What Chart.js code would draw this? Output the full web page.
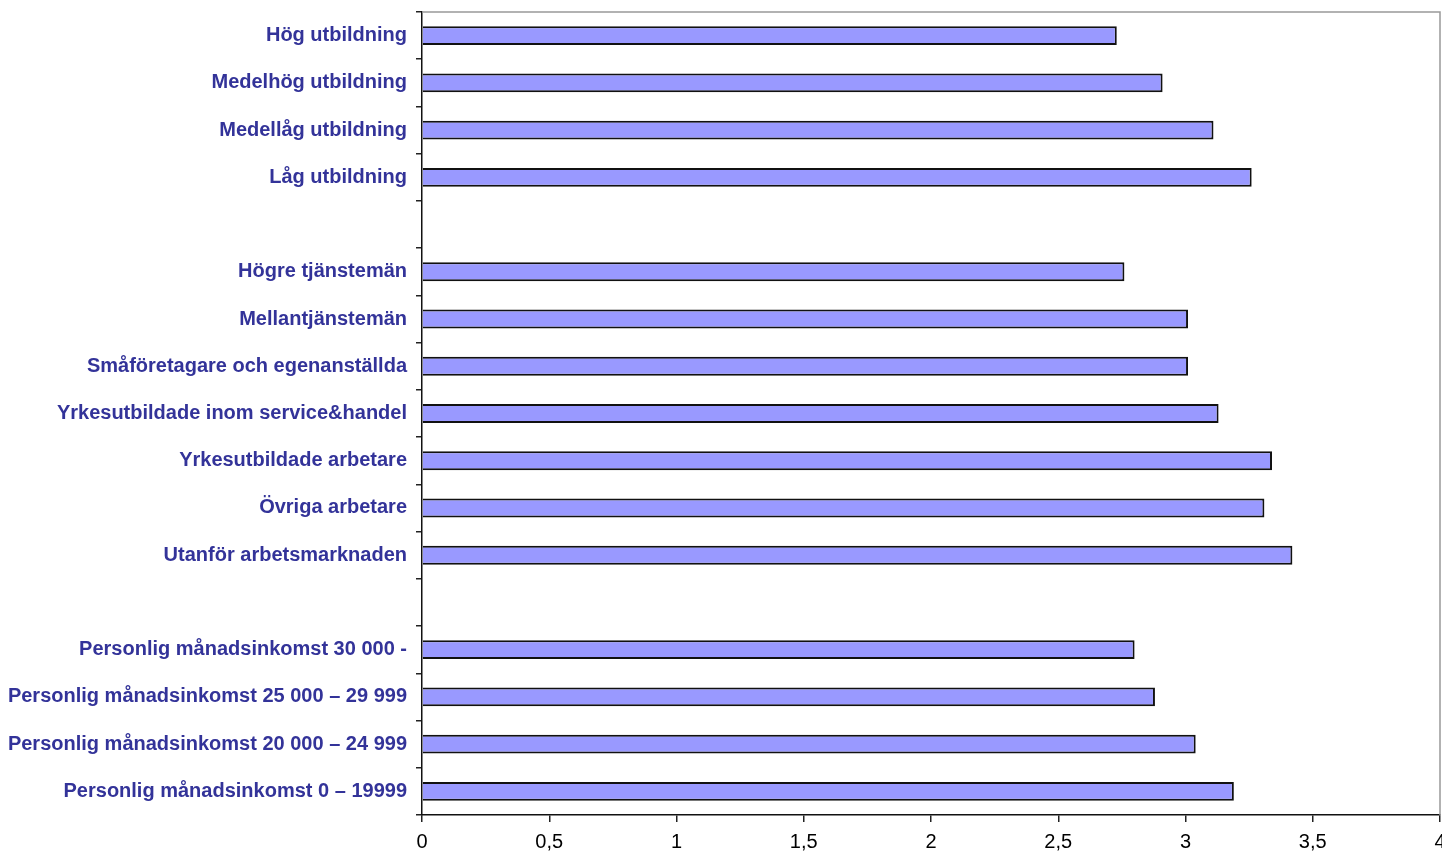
<!DOCTYPE html>
<html>
<head>
<meta charset="utf-8">
<script src="https://cdn.jsdelivr.net/npm/chart.js@4"></script>
<style>
  html, body { margin: 0; padding: 0; background: #fff; }
  #wrap { width: 1442px; height: 851px; }
</style>
</head>
<body>
<div id="wrap"><canvas id="barChart"></canvas></div>
<script>
// categories, top to bottom ('' = empty gap row)
const categories = [
  'Hög utbildning',
  'Medelhög utbildning',
  'Medellåg utbildning',
  'Låg utbildning',
  '',
  'Högre tjänstemän',
  'Mellantjänstemän',
  'Småföretagare och egenanställda',
  'Yrkesutbildade inom service&handel',
  'Yrkesutbildade arbetare',
  'Övriga arbetare',
  'Utanför arbetsmarknaden',
  '',
  'Personlig månadsinkomst 30 000 -',
  'Personlig månadsinkomst 25 000 – 29 999',
  'Personlig månadsinkomst 20 000 – 24 999',
  'Personlig månadsinkomst 0 – 19999'
];
const values = [2.73, 2.91, 3.11, 3.26, null, 2.76, 3.01, 3.01, 3.13, 3.34, 3.31, 3.42, null, 2.80, 2.88, 3.04, 3.19];
const xTicks = [0, 0.5, 1, 1.5, 2, 2.5, 3, 3.5, 4];

const frameLines = {
  id: 'frameLines',
  afterDraw(chart) {
    const { ctx, chartArea: a } = chart;
    ctx.save();
    ctx.strokeStyle = '#999';
    ctx.lineWidth = 1.5;
    ctx.beginPath();
    ctx.moveTo(a.left, a.top);
    ctx.lineTo(a.right, a.top);
    ctx.lineTo(a.right, a.bottom);
    ctx.stroke();
    ctx.restore();
  }
};

new Chart(document.getElementById('barChart'), {
  type: 'bar',
  data: {
    labels: categories,
    datasets: [{
      data: values,
      backgroundColor: '#9999ff',
      borderColor: '#111',
      borderWidth: 2,
      barPercentage: 0.4,
      categoryPercentage: 1
    }]
  },
  options: {
    indexAxis: 'y',
    responsive: true,
    maintainAspectRatio: false,
    animation: false,
    layout: { padding: { top: 12, right: 2, left: 0, bottom: 0 } },
    plugins: { legend: { display: false }, tooltip: { enabled: false } },
    scales: {
      x: {
        min: 0,
        max: 4,
        afterBuildTicks: s => { s.ticks = xTicks.map(v => ({ value: v })); },
        ticks: {
          color: '#000',
          font: { family: 'Liberation Sans, Arial, sans-serif', size: 20 },
          padding: 8,
          maxRotation: 0,
          callback: v => String(v).replace('.', ',')
        },
        grid: { drawOnChartArea: false, tickLength: 7, color: '#222', lineWidth: 1.5 },
        border: { color: '#111', width: 1.5 },
        afterFit: s => { s.height = 36; s.paddingLeft = 0; s.paddingRight = 0; }
      },
      y: {
        ticks: {
          color: '#333399',
          font: { family: 'Liberation Sans, Arial, sans-serif', size: 20, weight: 'bold' },
          padding: 9,
          autoSkip: false
        },
        grid: { drawOnChartArea: false, tickLength: 6, color: '#222', lineWidth: 1.5, offset: true },
        border: { color: '#111', width: 1.5 },
        afterFit: s => { s.width = 422; s.paddingTop = 0; s.paddingBottom = 0; }
      }
    }
  },
  plugins: [frameLines]
});
</script>
</body>
</html>
